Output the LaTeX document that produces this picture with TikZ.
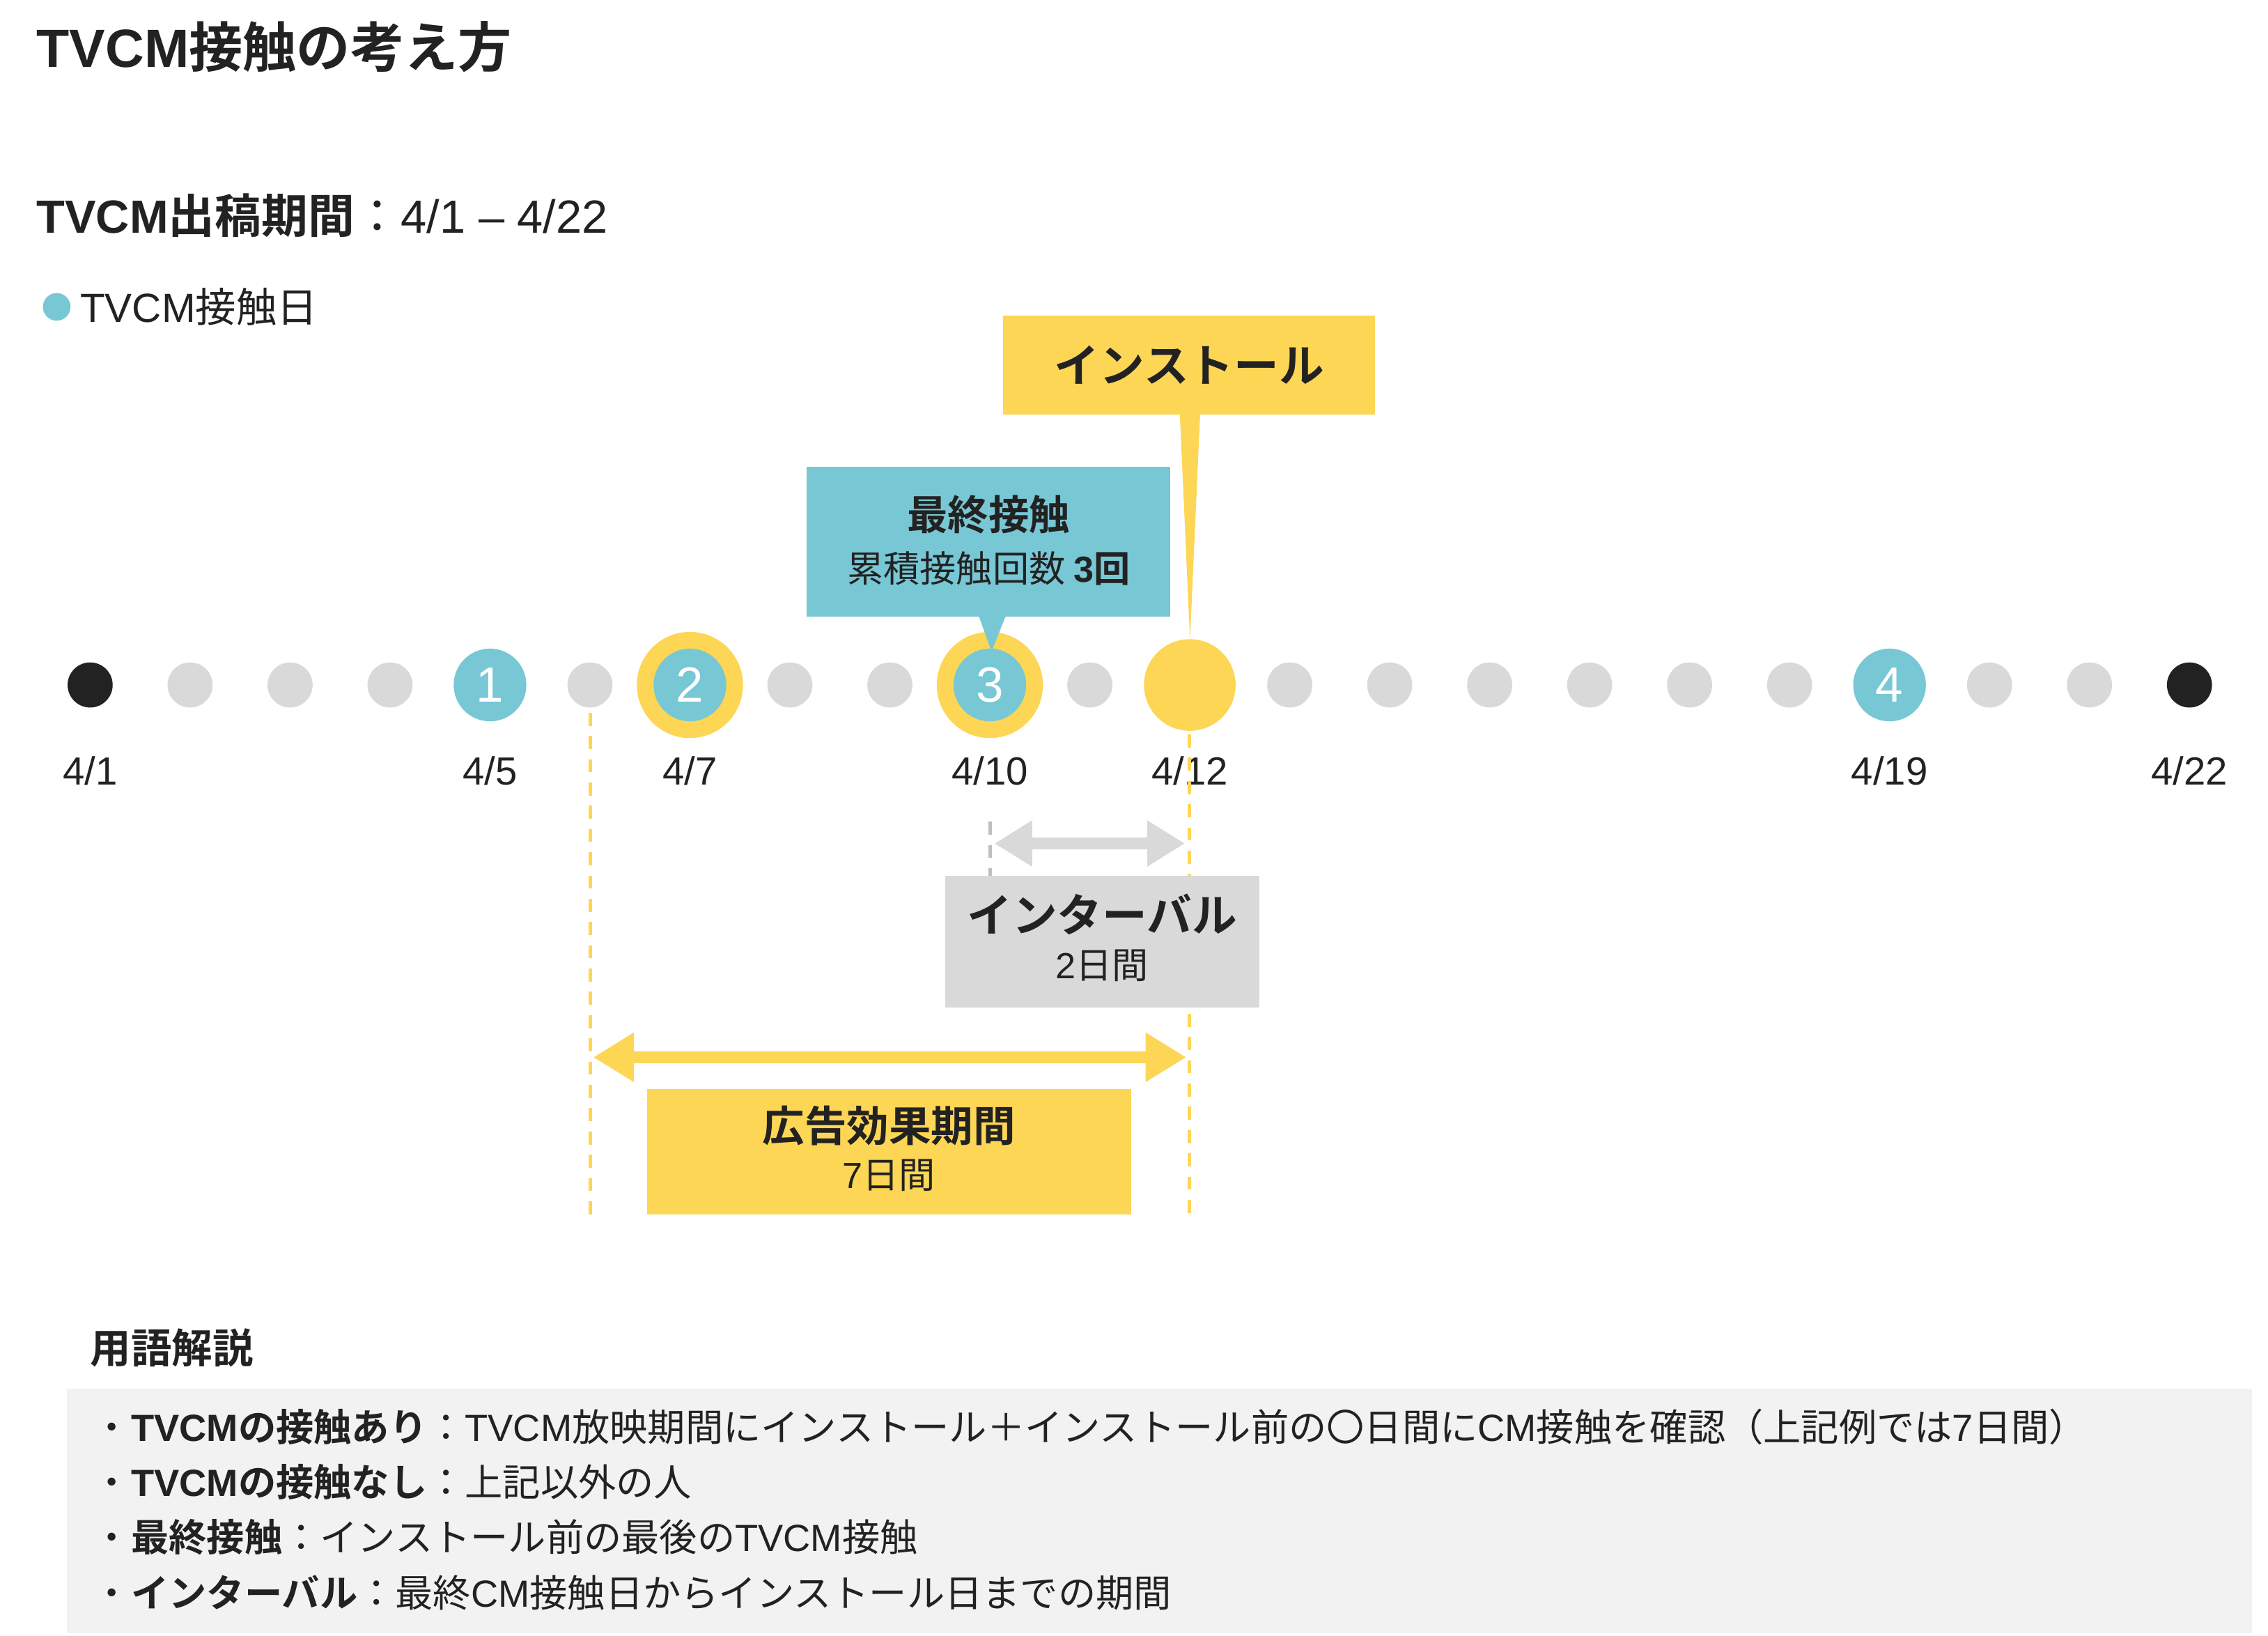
\documentclass[tikz,border=0pt]{standalone}
\usepackage{fontspec}
\setmainfont{Noto Sans CJK JP}[BoldFont={Noto Sans CJK JP Bold}]
\newfontfamily\latf{Liberation Sans}
\newcommand{\lat}[1]{{\latf #1}}
\usetikzlibrary{arrows.meta}
\definecolor{cy}{HTML}{FDD655}
\definecolor{cb}{HTML}{78C7D5}
\definecolor{cg}{HTML}{D9D9D9}
\definecolor{ck}{HTML}{222222}
\definecolor{cbg}{HTML}{F2F2F2}
\tikzset{
  fs/.style={font=\fontsize{#1}{#1}\selectfont},
  txt/.style={text=ck, inner sep=0pt},
  gdot/.style={circle, fill=cg, minimum size=31pt, inner sep=0pt},
  kdot/.style={circle, fill=ck, minimum size=31pt, inner sep=0pt},
  bdot/.style={circle, fill=cb, minimum size=50pt, inner sep=0pt, text=white, font=\latf\fontsize{34}{34}\selectfont},
  ring/.style={circle, fill=cy, minimum size=73pt, inner sep=0pt},
  datel/.style={txt, font=\latf\fontsize{27}{27}\selectfont},
  vdash/.style={cy, line width=2.5pt, dash pattern=on 9pt off 7pt},
}
\begin{document}
\begin{tikzpicture}[x=1pt,y=-1pt]
\useasboundingbox[fill=white] (0,0) rectangle (1560,1124.5);
% titles
\node[txt, fs=37, anchor=west] (title) at (25,32) {\bfseries \lat{TVCM}接触の考え方};
\node[txt, fs=32, anchor=west] (period) at (25,148) {\bfseries \lat{TVCM}出稿期間\mdseries：\lat{4/1 – 4/22}};
\node[circle, fill=cb, minimum size=19pt, inner sep=0pt] (ld) at (39,211) {};
\node[txt, fs=28, anchor=west] (lt) at (55,211) {\lat{TVCM}接触日};
% timeline
\foreach \i in {1,...,22}{
  \pgfmathsetmacro{\xx}{62+(\i-1)*68.76}
  \coordinate (d\i) at (\xx,471);
}
\foreach \i in {2,3,4,6,8,9,11,13,14,15,16,17,18,20,21}{\node[gdot] at (d\i) {};}
\node[kdot] (k1) at (d1) {};
\node[kdot] (k22) at (d22) {};
\node[ring] (r7) at (d7) {};
\node[ring] (r10) at (d10) {};
\node[circle, fill=cy, minimum size=63pt, inner sep=0pt] (inst) at (d12) {};
\node[bdot] (b1) at (d5) {1};
\node[bdot] (b2) at (d7) {2};
\node[bdot] (b3) at (d10) {3};
\node[bdot] (b4) at (d19) {4};
\foreach \i/\t in {1/4\slash 1,5/4\slash 5,7/4\slash 7,10/4\slash 10,12/4\slash 12,19/4\slash 19,22/4\slash 22}{
  \node[datel] at ([yshift=-59pt]d\i) {\t};
}
% install callout
\node[fill=cy, minimum width=256pt, minimum height=68pt, inner sep=0pt, txt, fs=31] (ib) at (818,251) {\bfseries インストール};
\fill[cy] (811.5,284) -- (825.5,284) -- (818.5,440) -- cycle;
% last contact callout
\node[fill=cb, minimum width=250pt, minimum height=103pt, inner sep=0pt] (lb) at (680,372.5) {};
\node[txt, fs=28] at (680,354) {\bfseries 最終接触};
\node[txt, fs=25] at (680,391) {累積接触回数 \bfseries \lat{3}回};
\fill[cb] (673,423) -- (692,423) -- (682,448) -- cycle;
% dashed guides
\coordinate (g1t) at (406,490); \coordinate (g1b) at (406,835);
\coordinate (g2t) at (818,505); \coordinate (g2b) at (818,835);
\draw[vdash] (g1t) -- (g1b);
\draw[vdash] (g2t) -- (g2b);
\draw[cg!70!gray, line width=2.5pt, dash pattern=on 9pt off 7pt] (681,565) -- (681,602);
% interval arrow
\coordinate (ia) at (684,580); \coordinate (ib2) at (815,580);
\draw[cg, line width=8pt, {Triangle[length=26pt,width=30pt]}-{Triangle[length=26pt,width=30pt]}] (ia) -- (ib2);
\node[fill=cg, minimum width=216pt, minimum height=91pt, inner sep=0pt] (iv) at (758,647.5) {};
\node[txt, fs=31] at (758,629) {\bfseries インターバル};
\node[txt, fs=25] at (758,664) {\lat{2}日間};
% effect arrow
\coordinate (ea) at (408,727); \coordinate (eb) at (816,727);
\draw[cy, line width=8pt, {Triangle[length=28pt,width=32pt]}-{Triangle[length=28pt,width=32pt]}] (ea) -- (eb);
\node[fill=cy, minimum width=333pt, minimum height=86pt, inner sep=0pt] (ef) at (611.5,792) {};
\node[txt, fs=29] at (611.5,774) {\bfseries 広告効果期間};
\node[txt, fs=25] at (611.5,808) {\lat{7}日間};
% glossary
\node[txt, fs=28, anchor=west] (gh) at (62,927) {\bfseries 用語解説};
\fill[cbg] (46,955) rectangle (1549,1123);
\begin{scope}[every node/.style={txt, fs=26, anchor=west}]
\node (l1) at (64,981) {・\bfseries \lat{TVCM}の接触あり\mdseries：\lat{TVCM}放映期間にインストール＋インストール前の〇日間に\lat{CM}接触を確認（上記例では\lat{7}日間）};
\node (l2) at (64,1019) {・\bfseries \lat{TVCM}の接触なし\mdseries：上記以外の人};
\node (l3) at (64,1057) {・\bfseries 最終接触\mdseries：インストール前の最後の\lat{TVCM}接触};
\node (l4) at (64,1095) {・\bfseries インターバル\mdseries：最終\lat{CM}接触日からインストール日までの期間};
\end{scope}
\end{tikzpicture}
\end{document}
